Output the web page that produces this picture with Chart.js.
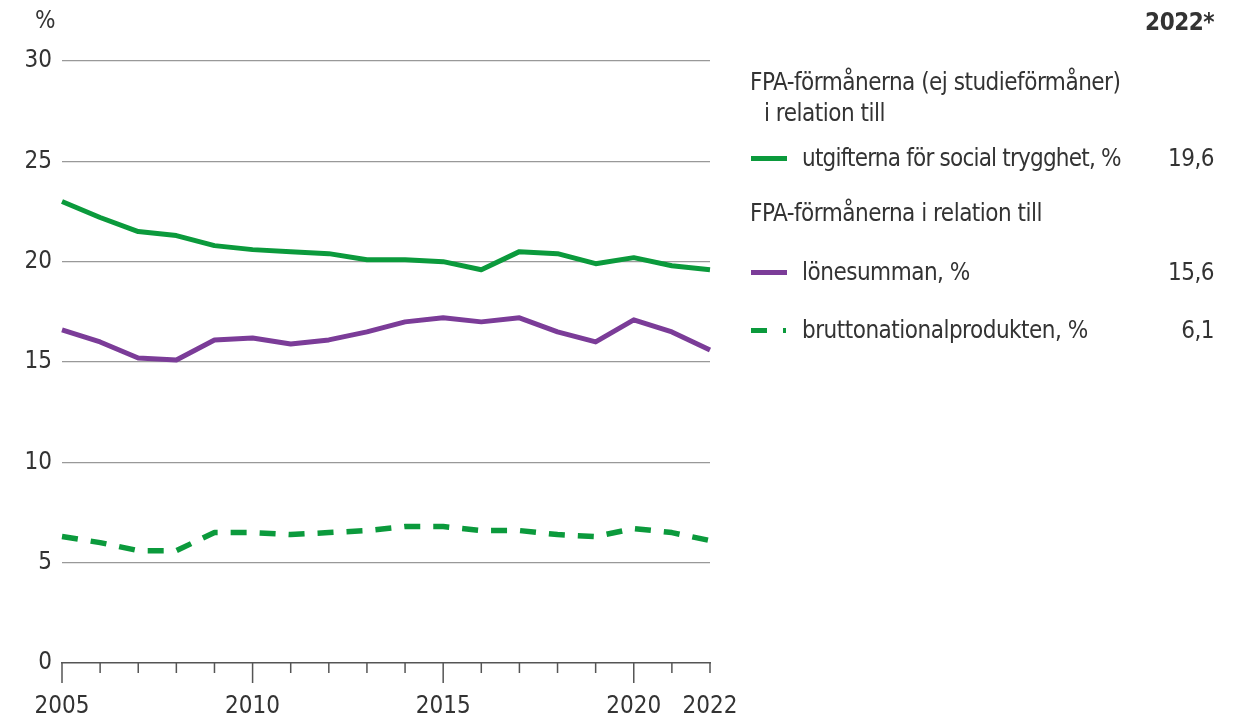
<!DOCTYPE html>
<html lang="sv">
<head>
<meta charset="UTF-8">
<title>FPA-förmånerna i relation till</title>
<style>
    body { margin: 0; background: #fff; }
    #wrap { position: relative; width: 1247px; height: 720px; font-family: 'Liberation Sans Narrow', 'DejaVu Sans Condensed', 'Roboto', sans-serif; color: #333; }
    #wrap canvas { position: absolute; left: 0; top: 0; }
    .t { position: absolute; font-size: 24px; line-height: 32px; letter-spacing: -0.5px; white-space: nowrap; }
    .v { position: absolute; font-size: 24px; line-height: 32px; letter-spacing: -0.5px; right: 33px; text-align: right; }
    .sw { position: absolute; height: 5px; }
</style>
</head>
<body>
<div id="wrap">
    <canvas id="c" width="1247" height="720"></canvas>
    <div class="t" style="left:35px; top:4px;">%</div>
    <div class="v" style="top:6px; font-weight:bold;">2022*</div>

    <div class="t" style="left:750px; top:66px;">FPA-förmånerna (ej studieförmåner)</div>
    <div class="t" style="left:764px; top:97px;">i relation till</div>

    <div class="sw" id="sw0" style="left:751px; top:156px; width:36px;"></div>
    <div class="t" id="lab0" style="left:802px; top:142px; letter-spacing:-0.8px;"></div>
    <div class="v" id="val0" style="top:142px;"></div>

    <div class="t" style="left:750px; top:197px;">FPA-förmånerna i relation till</div>

    <div class="sw" id="sw1" style="left:751px; top:270px; width:36px;"></div>
    <div class="t" id="lab1" style="left:802px; top:256px;"></div>
    <div class="v" id="val1" style="top:256px;"></div>

    <div class="sw" id="sw2a" style="left:751px; top:328px; width:16px;"></div>
    <div class="sw" id="sw2b" style="left:783px; top:328px; width:3px;"></div>
    <div class="t" id="lab2" style="left:802px; top:314px;"></div>
    <div class="v" id="val2" style="top:314px;"></div>
</div>

<script src="https://cdn.jsdelivr.net/npm/chart.js"></script>
<script>
// data
const years = [2005, 2006, 2007, 2008, 2009, 2010, 2011, 2012, 2013, 2014, 2015, 2016, 2017, 2018, 2019, 2020, 2021, 2022];
const socialTrygghet = [23.0, 22.2, 21.5, 21.3, 20.8, 20.6, 20.5, 20.4, 20.1, 20.1, 20.0, 19.6, 20.5, 20.4, 19.9, 20.2, 19.8, 19.6];
const loneSumman = [16.6, 16.0, 15.2, 15.1, 16.1, 16.2, 15.9, 16.1, 16.5, 17.0, 17.2, 17.0, 17.2, 16.5, 16.0, 17.1, 16.5, 15.6];
const bnp = [6.3, 6.0, 5.6, 5.6, 6.5, 6.5, 6.4, 6.5, 6.6, 6.8, 6.8, 6.6, 6.6, 6.4, 6.3, 6.7, 6.5, 6.1];
const seriesLabels = ['utgifterna för social trygghet, %', 'lönesumman, %', 'bruttonationalprodukten, %'];
const labeledYears = [2005, 2010, 2015, 2020, 2022];
const majorYears = [2005, 2010, 2015, 2020];

const GREEN = '#0b9a3c';
const PURPLE = '#7b3c98';
const FONT = "'Liberation Sans Narrow', 'DejaVu Sans Condensed', 'Roboto', sans-serif";

// legend texts from data
const fmt = v => v.toFixed(1).replace('.', ',');
[socialTrygghet, loneSumman, bnp].forEach((s, i) => {
    document.getElementById('lab' + i).textContent = seriesLabels[i];
    document.getElementById('val' + i).textContent = fmt(s[s.length - 1]);
});
document.getElementById('sw0').style.background = GREEN;
document.getElementById('sw1').style.background = PURPLE;
document.getElementById('sw2a').style.background = GREEN;
document.getElementById('sw2b').style.background = GREEN;

// year tick marks below the axis
const tickMarks = {
    id: 'tickMarks',
    afterDraw(chart) {
        const ctx = chart.ctx;
        const xs = chart.scales.x;
        const y0 = chart.chartArea.bottom;
        ctx.save();
        ctx.strokeStyle = '#555';
        ctx.lineWidth = 1.5;
        years.forEach((yr, i) => {
            const px = xs.getPixelForValue(i);
            const len = majorYears.includes(yr) ? 20 : 10;
            ctx.beginPath();
            ctx.moveTo(px, y0);
            ctx.lineTo(px, y0 + len);
            ctx.stroke();
        });
        ctx.restore();
    }
};

new Chart(document.getElementById('c'), {
    type: 'line',
    data: {
        labels: years,
        datasets: [
            { label: seriesLabels[0], data: socialTrygghet, borderColor: GREEN, borderWidth: 5 },
            { label: seriesLabels[1], data: loneSumman, borderColor: PURPLE, borderWidth: 5 },
            { label: seriesLabels[2], data: bnp, borderColor: GREEN, borderWidth: 5.5, borderDash: [16, 13], borderCapStyle: 'butt' }
        ]
    },
    options: {
        responsive: false,
        animation: false,
        events: [],
        layout: { padding: { top: 61, right: 537, bottom: 0, left: 0 } },
        elements: { point: { radius: 0 }, line: { tension: 0, borderJoinStyle: 'round' } },
        plugins: { legend: { display: false }, tooltip: { enabled: false } },
        scales: {
            x: {
                offset: false,
                afterFit: s => { s.height = 57; },
                grid: { display: false },
                border: { display: true, color: '#555', width: 1.5 },
                ticks: {
                    autoSkip: false,
                    maxRotation: 0,
                    padding: 21,
                    color: '#333',
                    font: { family: FONT, size: 24 },
                    callback: function (v, i) {
                        return labeledYears.includes(years[i]) ? String(years[i]) : '';
                    }
                }
            },
            y: {
                min: 0,
                max: 30,
                afterFit: s => { s.width = 62; },
                border: { display: false },
                grid: {
                    drawTicks: false,
                    color: c => (c.tick && c.tick.value === 0) ? 'rgba(0,0,0,0)' : '#999',
                    lineWidth: 1.2
                },
                ticks: {
                    stepSize: 5,
                    padding: 10,
                    color: '#333',
                    font: { family: FONT, size: 24 }
                }
            }
        }
    },
    plugins: [tickMarks]
});
</script>
</body>
</html>
